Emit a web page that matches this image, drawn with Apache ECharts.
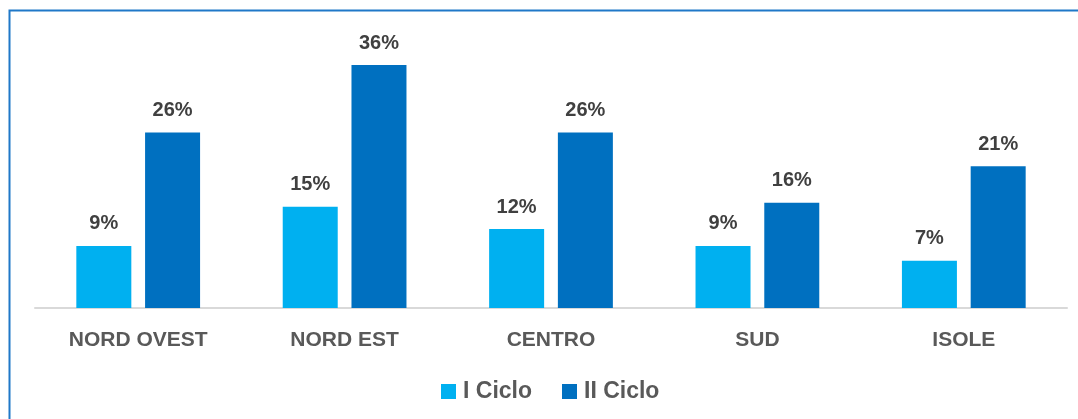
<!DOCTYPE html>
<html><head><meta charset="utf-8">
<script src="https://cdn.jsdelivr.net/npm/echarts@6/dist/echarts.min.js"></script>
<style>html,body{margin:0;padding:0;background:#fff}#c{width:1078px;height:419px}</style>
</head><body><div id="c"></div>
<script>
var categories = ['NORD OVEST', 'NORD EST', 'CENTRO', 'SUD', 'ISOLE'];
var seriesNames = ['I Ciclo', 'II Ciclo'];
var ciclo1 = [9.2, 15, 11.7, 9.2, 7];
var ciclo2 = [26, 36, 26, 15.6, 21];
var colors = ['#00B0F0', '#0070C0'];

var chart = echarts.init(document.getElementById('c'));
var font = 'Liberation Sans, Arial, sans-serif';
function mk(name, data, color) {
  return {
    name: name, type: 'bar', data: data, barWidth: 55, barGap: '25%',
    itemStyle: { color: color },
    label: { show: true, position: 'top', distance: 12, color: '#404040', fontWeight: 'bold', fontSize: 20, fontFamily: font,
      formatter: function (p) { return Math.round(p.value) + '%'; } }
  };
}
chart.setOption({
  animation: false,
  graphic: [{ type: 'rect', shape: { x: 9.5, y: 10.5, width: 1200, height: 600 }, style: { fill: 'none', stroke: '#1F78C8', lineWidth: 2 } }],
  grid: { left: 35, right: 11, top: 38, bottom: 111 },
  legend: { bottom: 11, left: 436, itemWidth: 15, itemHeight: 15, itemGap: 30, icon: 'rect',
    textStyle: { color: '#595959', fontWeight: 'bold', fontSize: 23, fontFamily: font, padding: [0, 0, 0, 2] }, data: seriesNames },
  xAxis: { type: 'category', data: categories, axisTick: { show: false },
    axisLine: { lineStyle: { color: '#D9D9D9', width: 2 } },
    axisLabel: { color: '#595959', fontWeight: 'bold', fontSize: 21, fontFamily: font, margin: 22 } },
  yAxis: { type: 'value', min: 0, max: 40, show: false, splitLine: { show: false } },
  series: [mk(seriesNames[0], ciclo1, colors[0]), mk(seriesNames[1], ciclo2, colors[1])]
});
</script></body></html>
